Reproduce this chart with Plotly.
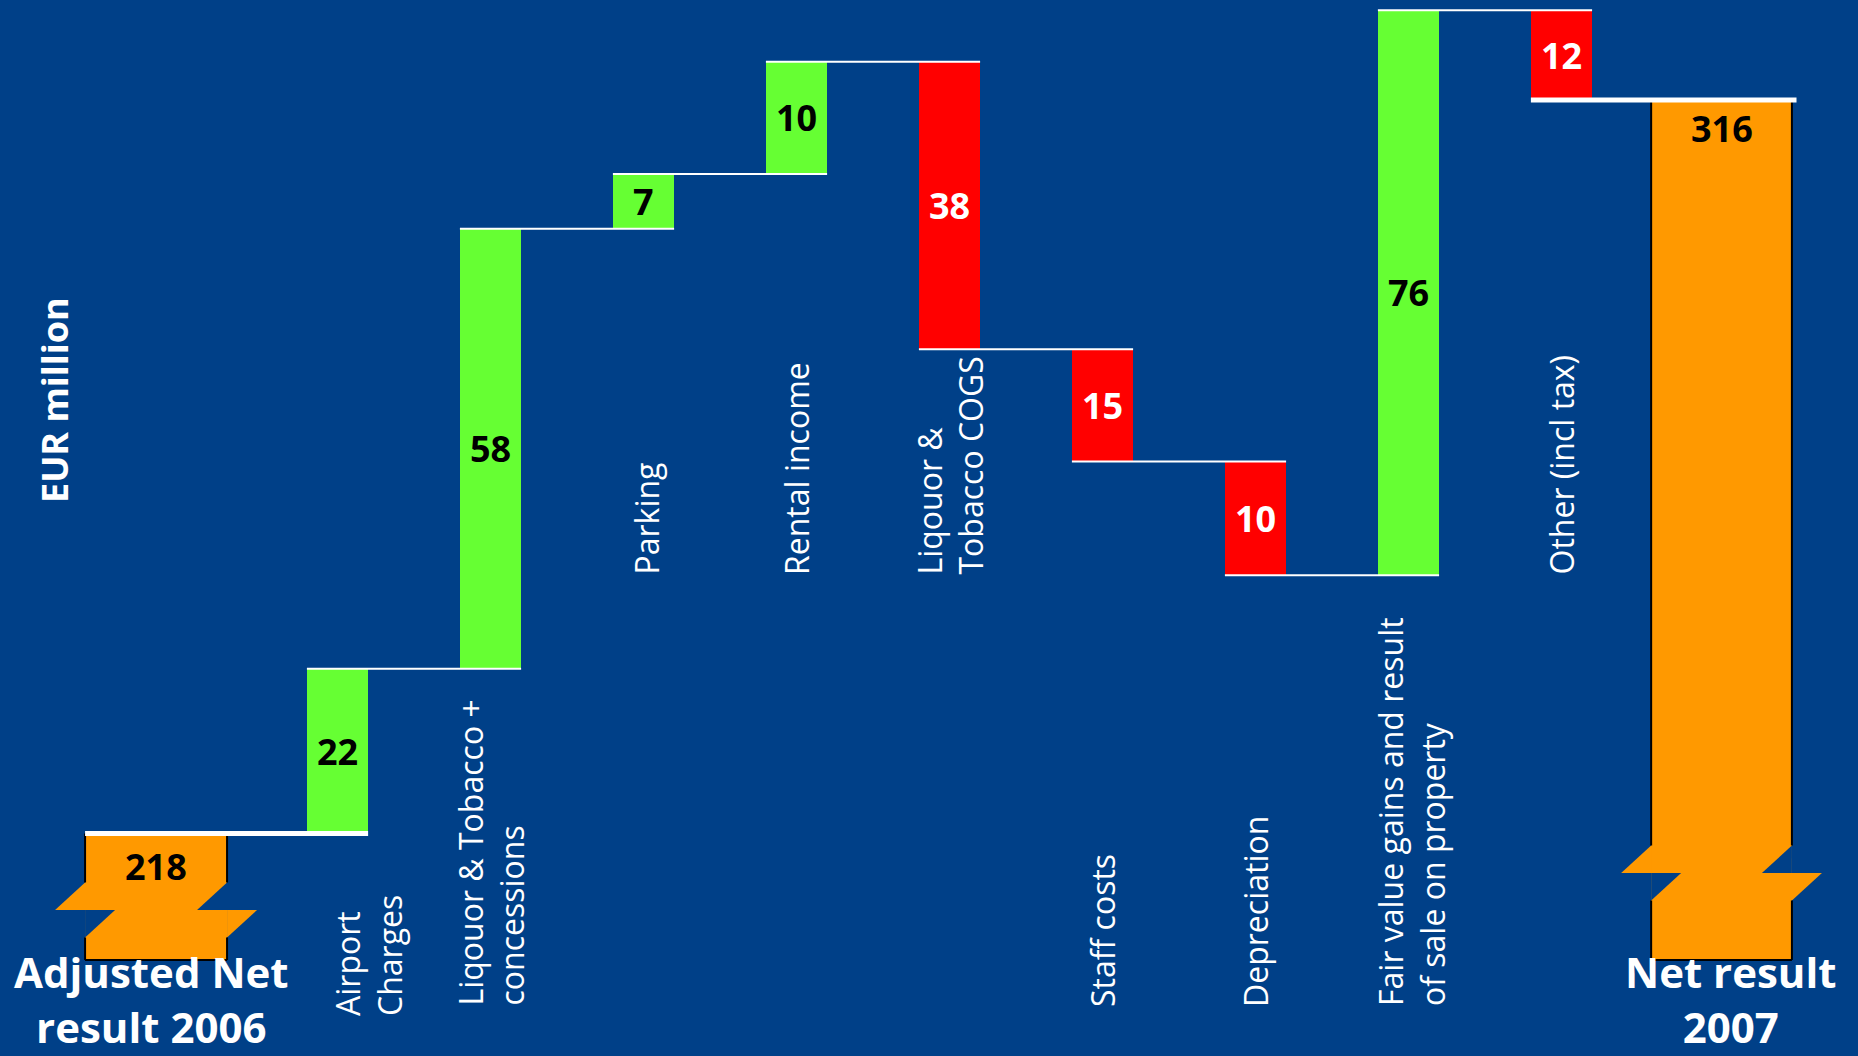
import plotly.graph_objects as go

# ---------------- data ----------------
categories = [
    "Adjusted Net<br>result 2006",
    "Airport<br>Charges",
    "Liqouor & Tobacco +<br>concessions",
    "Parking",
    "Rental income",
    "Liqouor &<br>Tobacco COGS",
    "Staff costs",
    "Depreciation",
    "Fair value gains and result<br>of sale on property",
    "Other (incl tax)",
    "Net result<br>2007",
]
start_value = 218
# bar heights as drawn in the picture (EUR million)
changes = [22, 58.8, 7.3, 15, -38.4, -15, -15.2, 75.5, -12]
end_value = 316
# printed value labels
value_labels = ["218", "22", "58", "7", "10", "38", "15", "10", "76", "12", "316"]
axis_title = "EUR million"

# ---------------- style / layout ----------------
W, H = 1858, 1056
BG = "rgb(0,64,136)"
GREEN = "#66FF33"
RED = "#FF0000"
ORANGE = "#FF9900"
FONT = "Open Sans"

X_RANGE = [-1.206, 10.938]
Y_RANGE = [188.27, 329.36]
px_x = W / (X_RANGE[1] - X_RANGE[0])
px_y = H / (Y_RANGE[1] - Y_RANGE[0])

positions = [-0.186, 1, 2, 3, 4, 5, 6, 7, 8, 9, 10.046]
widths = [0.928] + [0.40] * 9 + [0.92]
BREAK_BOTTOM = 201.1          # level where the broken (orange) bars end
break_mid_px = {0: 50, 10: 87}  # break centre above bar bottom, px
BREAK_HALF_PX = 27.5
BREAK_OUT_PX = 30

# category label placement: text start (bottom) in px, x shift in px
label_start_px = [None, 1018, 1008, 577, 577, 577, 1009, 1009, 1008, 576, None]
label_xshift = [0, 31, 0, 2, 0, 0, 0, 0, 3, 0, 0]

# ---------------- computed geometry ----------------
levels = [start_value]
for c in changes:
    levels.append(levels[-1] + c)

bases, heights, colors = [], [], []
bases.append(BREAK_BOTTOM); heights.append(start_value - BREAK_BOTTOM); colors.append(ORANGE)
for i, c in enumerate(changes):
    lo = min(levels[i], levels[i + 1])
    bases.append(lo); heights.append(abs(c)); colors.append(GREEN if c > 0 else RED)
bases.append(BREAK_BOTTOM); heights.append(end_value - BREAK_BOTTOM); colors.append(ORANGE)

fig = go.Figure()
fig.add_trace(go.Bar(
    x=positions, y=heights, base=bases, width=widths,
    marker=dict(color=colors, line=dict(width=0)),
    hoverinfo="skip", showlegend=False,
))

shapes = []
# broken-bar decoration for the two orange bars
d = BREAK_OUT_PX / px_x
for idx in (0, 10):
    L = positions[idx] - widths[idx] / 2
    R = positions[idx] + widths[idx] / 2
    top = bases[idx] + heights[idx]
    bot = bases[idx]
    M = bot + break_mid_px[idx] / px_y
    T = M + BREAK_HALF_PX / px_y
    B = M - BREAK_HALF_PX / px_y
    tri = [
        ([(L, T), (L - d, M), (L, M)], ORANGE),
        ([(R, T), (R - d, M), (R, M)], BG),
        ([(L, M), (L + d, M), (L, B)], BG),
        ([(R, M), (R + d, M), (R, B)], ORANGE),
    ]
    for pts, col in tri:
        path = "M " + " L ".join(f"{px},{py}" for px, py in pts) + " Z"
        shapes.append(dict(type="path", path=path, xref="x", yref="y",
                           fillcolor=col, line=dict(width=0), layer="above"))
    for (x0, y0, x1, y1) in [(L, top, L, T), (L, B, L, bot), (R, top, R, T),
                             (R, B, R, bot), (L, bot, R, bot), (L, top, R, top)]:
        shapes.append(dict(type="line", xref="x", yref="y", x0=x0, y0=y0, x1=x1, y1=y1,
                           line=dict(color="black", width=2), layer="above"))

# connectors
for i in range(10):
    lvl = levels[i]
    x0 = positions[i] - widths[i] / 2
    x1 = positions[i + 1] + widths[i + 1] / 2
    thick = i in (0, 9)
    shapes.append(dict(type="line", xref="x", yref="y", x0=x0, x1=x1 + (0.03 if i == 9 else 0),
                       y0=lvl, y1=lvl,
                       line=dict(color="white", width=5 if thick else 2), layer="above"))

annotations = []
# value labels
for i in range(11):
    if i in (0, 10):
        y = bases[i] + heights[i]
        ys = -33 if i == 0 else -29
        col = "black"
    else:
        y = bases[i] + heights[i] / 2
        ys = 0
        col = "black" if changes[i - 1] > 0 else "white"
    annotations.append(dict(x=positions[i], y=y, xref="x", yref="y", yshift=ys,
                            text=f"<b>{value_labels[i]}</b>", showarrow=False,
                            xanchor="center", yanchor="middle",
                            font=dict(family=FONT, size=36, color=col)))

# rotated category labels
for i in range(1, 10):
    annotations.append(dict(x=positions[i], xref="x", xshift=label_xshift[i],
                            y=1 - label_start_px[i] / H, yref="paper",
                            text=categories[i], textangle=-90, showarrow=False,
                            xanchor="center", yanchor="bottom", align="left",
                            font=dict(family=FONT, size=32, color="white")))

# big horizontal labels under the orange bars
big_shift = {0: -5, 10: 9}
for idx in (0, 10):
    annotations.append(dict(x=positions[idx], xref="x", xshift=big_shift[idx],
                            y=0, yref="paper", borderpad=0,
                            text=f"<b>{categories[idx]}</b>", showarrow=False,
                            xanchor="center", yanchor="bottom", align="center",
                            font=dict(family=FONT, size=42, color="white")))

# axis title
annotations.append(dict(x=54 / W, y=1 - 400 / H, xref="paper", yref="paper",
                        text=f"<b>{axis_title}</b>", textangle=-90, showarrow=False,
                        xanchor="center", yanchor="middle",
                        font=dict(family=FONT, size=36, color="white")))

fig.update_layout(
    width=W, height=H,
    margin=dict(l=0, r=0, t=0, b=0, pad=0),
    paper_bgcolor=BG, plot_bgcolor=BG,
    xaxis=dict(range=X_RANGE, visible=False, fixedrange=True),
    yaxis=dict(range=Y_RANGE, visible=False, fixedrange=True),
    shapes=shapes, annotations=annotations,
    bargap=0, showlegend=False,
)

fig.write_html(
    "out.html",
    config={"displayModeBar": False},
    post_script="document.body.style.margin='0';document.body.style.background='" + BG + "';",
)
